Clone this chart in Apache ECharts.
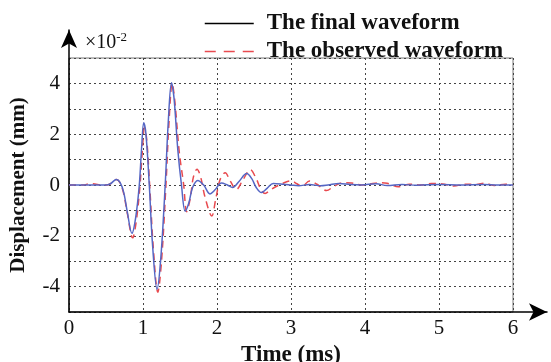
<!DOCTYPE html>
<html>
<head>
<meta charset="utf-8">
<script src="https://cdn.jsdelivr.net/npm/echarts@6/dist/echarts.min.js"></script>
<style>
  html, body { margin: 0; padding: 0; background: #fff; }
  #chart { width: 551px; height: 362px; }
</style>
</head>
<body>
<div id="chart"></div>
<script>
// displacement in units of 1e-2 mm, time in ms
const finalTime = [0, 0.5, 0.56, 0.64, 0.69, 0.74, 0.79, 0.85, 0.9, 0.95, 0.98, 1.01, 1.04, 1.085, 1.13, 1.19, 1.24, 1.3, 1.34, 1.385, 1.42, 1.47, 1.52, 1.57, 1.62, 1.67, 1.74, 1.82, 1.905, 1.97, 2.06, 2.14, 2.21, 2.3, 2.4, 2.47, 2.53, 2.6, 2.68, 2.76, 2.9, 3.0, 3.1, 3.25, 3.4, 3.5, 3.65, 3.8, 3.95, 4.15, 4.3, 4.5, 4.7, 5.0, 5.3, 5.6, 5.8, 6.0]
const finalDisp = [0, 0, 0.05, 0.22, 0.1, -0.3, -1.1, -1.9, -1.3, 0, 1.4, 2.45, 2.0, 0, -2.4, -4.1, -2.9, 0, 2.4, 4.03, 3.4, 1.4, 0, -1.03, -0.7, -0.1, 0.18, 0, -0.35, -0.2, 0.08, 0, -0.1, 0.15, 0.45, 0.25, -0.1, -0.3, -0.12, 0.06, 0.03, 0, -0.03, 0.02, -0.03, 0, 0.06, 0.02, 0, 0.05, -0.02, 0.02, -0.01, 0.02, 0, 0.02, 0, 0]

const observedTime = [0, 0.2, 0.27, 0.35, 0.42, 0.5, 0.56, 0.64, 0.69, 0.74, 0.79, 0.86, 0.91, 0.96, 0.99, 1.02, 1.05, 1.09, 1.14, 1.2, 1.25, 1.31, 1.35, 1.395, 1.43, 1.49, 1.55, 1.59, 1.64, 1.68, 1.73, 1.78, 1.84, 1.93, 1.98, 2.04, 2.11, 2.18, 2.26, 2.35, 2.45, 2.53, 2.59, 2.65, 2.72, 2.8, 2.9, 3.0, 3.08, 3.15, 3.25, 3.35, 3.48, 3.58, 3.7, 3.82, 3.95, 4.05, 4.2, 4.3, 4.45, 4.6, 4.75, 4.9, 5.05, 5.2, 5.35, 5.5, 5.62, 5.75, 5.9, 6.0]
const observedDisp = [0, 0, 0.05, 0.04, 0.01, 0, 0.05, 0.22, 0.08, -0.35, -1.15, -2.08, -1.4, 0, 1.3, 2.25, 1.8, 0, -2.5, -4.22, -3.0, 0, 2.4, 4.0, 3.3, 1.3, 0, -1.05, -0.5, 0.3, 0.62, 0.3, -0.5, -1.22, -0.6, 0.2, 0.48, 0.15, -0.18, 0.2, 0.6, 0.25, -0.15, -0.33, -0.2, -0.06, 0.08, 0.16, 0.05, -0.05, 0.16, 0.03, -0.22, -0.05, 0.09, 0.08, 0, 0.03, 0.09, 0.07, -0.07, 0.03, 0, 0.06, 0.04, -0.04, 0.03, 0.02, 0.07, -0.02, 0.03, 0]

const xTicks = [0, 1, 2, 3, 4, 5, 6]
const yLabels = [-4, -2, 0, 2, 4]

const serif = 'Liberation Serif'
const pairs = (xs, ys) => xs.map((x, i) => [x, ys[i]])

const chart = echarts.init(document.getElementById('chart'))

const options = {
  animation: false,
  backgroundColor: '#fff',
  title: {
    left: 80,
    top: 26,
    text: '×10{sup|-2}',
    textStyle: {
      fontFamily: serif,
      fontWeight: 'normal',
      fontSize: 20,
      color: '#111',
      rich: {
        sup: { fontFamily: serif, fontSize: 13, color: '#111', verticalAlign: 'top', padding: [0, 0, 10, 0] }
      }
    }
  },
  legend: {
    orient: 'vertical',
    left: 199,
    top: 7,
    itemWidth: 49,
    itemHeight: 14,
    itemGap: 5,
    textStyle: {
      fontFamily: serif,
      fontWeight: 'bold',
      fontSize: 23,
      color: '#111',
      padding: [0, 0, 0, 8]
    },
    data: [
      { name: 'The final waveform', itemStyle: { opacity: 0 }, lineStyle: { color: '#000', width: 1.5 } },
      { name: 'The observed waveform', itemStyle: { opacity: 0 }, lineStyle: { color: '#e84a4f', width: 1.5, type: [11, 8] } }
    ]
  },
  grid: [
    { left: 69, right: 38, top: 58, bottom: 50, outerBoundsMode: 'none', show: true, borderColor: '#777', borderWidth: 1 },
    { left: 69, right: 4, top: 30, bottom: 50, outerBoundsMode: 'none' }
  ],
  xAxis: [
    {
      type: 'value',
      min: 0,
      max: 6,
      interval: 1,
      name: 'Time (ms)',
      nameLocation: 'middle',
      nameGap: 28,
      nameTextStyle: { fontFamily: serif, fontWeight: 'bold', fontSize: 23, color: '#111' },
      axisLine: { show: false },
      axisTick: { show: false },
      axisLabel: {
        fontFamily: serif, fontSize: 21, color: '#111', margin: 6,
        formatter: v => xTicks.includes(v) ? String(v) : ''
      },
      splitLine: { show: true, lineStyle: { color: '#444', type: [2, 3], width: 1 } }
    },
    {
      gridIndex: 1,
      type: 'value',
      min: 0,
      max: 1,
      axisLine: { show: true, symbol: ['none', 'arrow'], symbolSize: [13, 18], lineStyle: { color: '#000', width: 1.5 } },
      axisTick: { show: false },
      axisLabel: { show: false },
      splitLine: { show: false }
    }
  ],
  yAxis: [
    {
      type: 'value',
      min: -5,
      max: 5,
      interval: 1,
      name: 'Displacement (mm)',
      nameLocation: 'middle',
      nameGap: 40,
      nameTextStyle: { fontFamily: serif, fontWeight: 'bold', fontSize: 21, color: '#111' },
      axisLine: { show: false },
      axisTick: { show: false },
      axisLabel: {
        fontFamily: serif, fontSize: 21, color: '#111', margin: 9,
        formatter: v => yLabels.includes(v) ? String(v) : ''
      },
      splitLine: { show: true, lineStyle: { color: '#444', type: [2, 3], width: 1 } }
    },
    {
      gridIndex: 1,
      type: 'value',
      min: 0,
      max: 1,
      axisLine: { show: true, onZero: false, symbol: ['none', 'arrow'], symbolSize: [12, 18], lineStyle: { color: '#000', width: 1.5 } },
      axisTick: { show: false },
      axisLabel: { show: false },
      splitLine: { show: false }
    }
  ],
  series: [
    {
      name: 'The final waveform',
      type: 'line',
      data: pairs(finalTime, finalDisp),
      smooth: 0.35,
      symbol: 'none',
      z: 3,
      lineStyle: { color: '#5566c4', width: 1.5 },
      itemStyle: { color: '#5566c4' }
    },
    {
      name: 'The observed waveform',
      type: 'line',
      data: pairs(observedTime, observedDisp),
      smooth: 0.35,
      symbol: 'none',
      z: 2,
      lineStyle: { color: '#e84a4f', width: 1.5, type: [7, 5] },
      itemStyle: { color: '#e84a4f' }
    }
  ]
}
chart.setOption(options)
</script>
</body>
</html>
